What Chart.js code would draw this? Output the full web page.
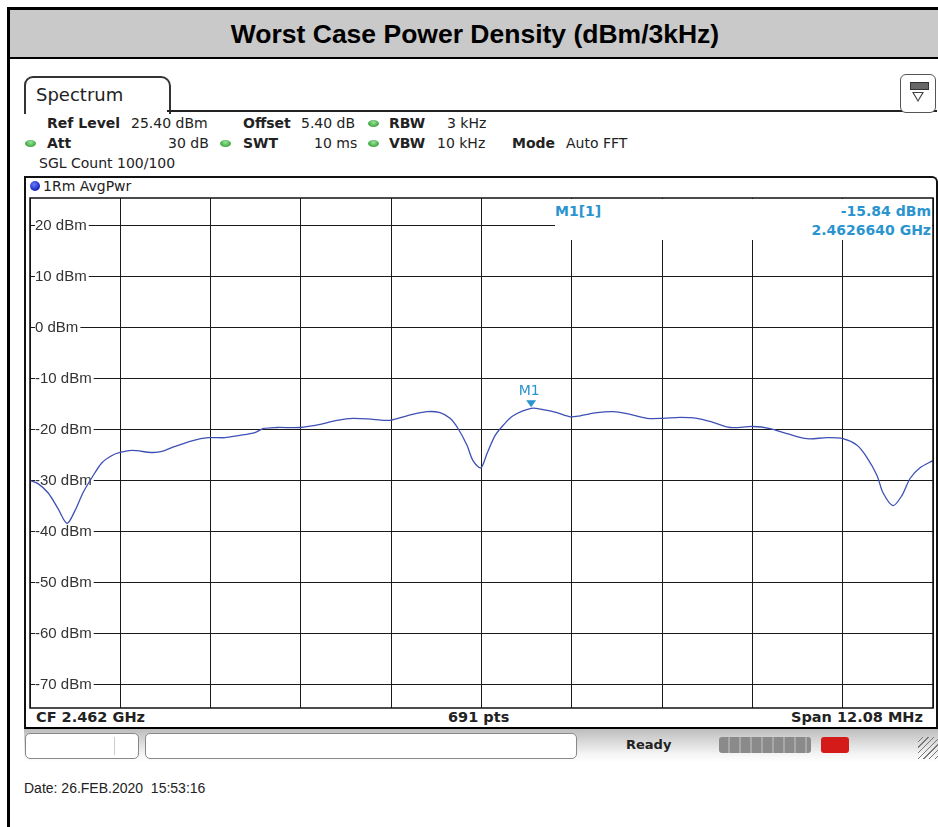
<!DOCTYPE html>
<html>
<head>
<meta charset="utf-8">
<script src="https://cdn.jsdelivr.net/npm/chart.js@4.4.1/dist/chart.umd.min.js"></script>
<style>
body{margin:0;background:#fff;width:938px;height:827px;overflow:hidden;position:relative;font-family:"DejaVu Sans",sans-serif;color:#222}
.a{position:absolute;white-space:nowrap;font-size:14px;line-height:16px}
.b{font-weight:bold}
#frame{position:absolute;left:7px;top:7px;width:940px;height:830px;border-left:3px solid #000;border-top:3px solid #000}
#title{position:absolute;left:10px;top:10px;width:930px;height:47px;background:#c9c9c9;border-bottom:2px solid #000;font:bold 26.5px "Liberation Sans",Arial,sans-serif;text-align:center;line-height:49px;color:#000}
#tab{position:absolute;left:24px;top:76px;width:143px;height:36px;border:2px solid #333;border-bottom:none;border-radius:9px 10px 0 0;background:#fff}
#tabline{position:absolute;left:167px;top:110px;width:770px;height:2px;background:#222}
#icon{position:absolute;left:900px;top:74px;width:34px;height:37px;border:1.5px solid #555;border-radius:6px;background:#fff}
.dot{position:absolute;width:11px;height:7px;border-radius:50%;background:radial-gradient(ellipse at 50% 35%,#9be39b,#3fa63f 70%)}
#plotframe{position:absolute;left:24px;top:176px;width:910px;height:549px;border:2px solid #111;border-bottom:3px solid #000;border-radius:0 6px 0 0}
#wrap{position:absolute;left:29px;top:197px;width:905px;height:512px}
#mbox{position:absolute;left:555px;top:199px;width:377px;height:41px;background:#fff;color:#2a94cf;font-weight:bold;font-size:14.5px}
#status{position:absolute;left:24px;top:729px;width:914px;height:33px;background:linear-gradient(#bdbdbd,#f4f4f4 75%,#fff)}
.box{position:absolute;top:4px;height:24px;background:#fff;border:1px solid #888;border-radius:5px}
</style>
</head>
<body>
<div id="frame"></div>
<div id="title">Worst Case Power Density (dBm/3kHz)</div>

<div id="tab"></div>
<div id="tabline"></div>
<div class="a" style="left:36px;top:85px;font-size:18px;line-height:20px">Spectrum</div>
<div id="icon">
  <div style="position:absolute;left:9px;top:7px;width:17px;height:6px;background:#666;border:1px solid #333"></div>
  <div style="position:absolute;left:11px;top:17px;width:0;height:0;border-left:6px solid transparent;border-right:6px solid transparent;border-top:10px solid #444"></div>
  <div style="position:absolute;left:13px;top:18px;width:0;height:0;border-left:4px solid transparent;border-right:4px solid transparent;border-top:7px solid #fff"></div>
</div>

<div class="a b" style="left:47px;top:115px">Ref Level</div>
<div class="a" style="left:131px;top:115px">25.40 dBm</div>
<div class="a b" style="left:243px;top:115px">Offset</div>
<div class="a" style="left:301px;top:115px">5.40 dB</div>
<div class="dot" style="left:368px;top:120px"></div>
<div class="a b" style="left:389px;top:115px">RBW</div>
<div class="a" style="left:447px;top:115px">3 kHz</div>

<div class="dot" style="left:25px;top:140px"></div>
<div class="a b" style="left:47px;top:135px">Att</div>
<div class="a" style="left:168px;top:135px">30 dB</div>
<div class="dot" style="left:220px;top:140px"></div>
<div class="a b" style="left:243px;top:135px">SWT</div>
<div class="a" style="left:314px;top:135px">10 ms</div>
<div class="dot" style="left:368px;top:140px"></div>
<div class="a b" style="left:389px;top:135px">VBW</div>
<div class="a" style="left:437px;top:135px">10 kHz</div>
<div class="a b" style="left:512px;top:135px">Mode</div>
<div class="a" style="left:566px;top:135px">Auto FFT</div>
<div class="a" style="left:39px;top:155px">SGL Count 100/100</div>

<div id="plotframe"></div>
<div style="position:absolute;left:30px;top:181px;width:10px;height:10px;border-radius:50%;background:radial-gradient(circle at 40% 35%,#6a7cff,#1424b8 70%)"></div>
<div class="a" style="left:43px;top:178px">1Rm AvgPwr</div>

<div id="wrap"><canvas id="spec"></canvas></div>
<div id="mbox">
  <div class="a" style="left:0;top:4px">M1[1]</div>
  <div class="a" style="right:1px;top:4px">-15.84 dBm</div>
  <div class="a" style="right:1px;top:23px">2.4626640 GHz</div>
</div>

<div class="a b" style="left:36px;top:709px;font-size:14.5px">CF 2.462 GHz</div>
<div class="a b" style="left:448px;top:709px;font-size:14.5px">691 pts</div>
<div class="a b" style="left:791px;top:709px;font-size:14.5px">Span 12.08 MHz</div>

<div id="status">
  <div class="box" style="left:1px;width:112px"><div style="position:absolute;left:88px;top:3px;width:1px;height:18px;background:#ccc"></div></div>
  <div class="box" style="left:121px;width:430px"></div>
  <div class="a b" style="left:602px;top:8px;font-size:13px">Ready</div>
  <div style="position:absolute;left:695px;top:8px;width:92px;height:16px;border-radius:3px;background:repeating-linear-gradient(90deg,#8a8a8a 0 9px,#a8a8a8 9px 11px)"></div>
  <div style="position:absolute;left:797px;top:8px;width:28px;height:16px;border-radius:3px;background:#d51a1a"></div>
  <div style="position:absolute;left:894px;top:8px;width:20px;height:22px;background:repeating-linear-gradient(135deg,transparent 0 3px,#777 3px 4px)"></div>
</div>

<div class="a" style="left:24px;top:780px;font-family:'Liberation Sans',Arial,sans-serif">Date: 26.FEB.2020&nbsp;&nbsp;15:53:16</div>

<script>
// trace 1 (AvgPwr)
const freqMHz = [2455.960, 2456.067, 2456.201, 2456.335, 2456.455, 2456.562, 2456.669, 2456.789, 2456.923,
  2457.057, 2457.164, 2457.325, 2457.592, 2457.726, 2457.900, 2458.127, 2458.341, 2458.569, 2458.743, 2458.970,
  2459.077, 2459.264, 2459.572, 2459.840, 2460.067, 2460.281, 2460.549, 2460.776, 2461.003, 2461.271, 2461.445,
  2461.579, 2461.686, 2461.806, 2461.886, 2461.990, 2462.074, 2462.181, 2462.288, 2462.422, 2462.664, 2462.823,
  2463.010, 2463.184, 2463.318, 2463.545, 2463.759, 2463.947, 2464.214, 2464.428, 2464.656, 2464.883, 2465.097,
  2465.325, 2465.632, 2465.860, 2466.087, 2466.355, 2466.622, 2466.836, 2467.024, 2467.157, 2467.291, 2467.371,
  2467.505, 2467.626, 2467.733, 2467.866, 2468.040];
const levelDbm = [-30.0, -30.6, -32.4, -35.5, -38.4, -35.9, -32.4, -29.4, -26.5,
  -25.1, -24.5, -24.1, -24.5, -24.3, -23.3, -22.2, -21.6, -21.6, -21.2, -20.6,
  -19.8, -19.6, -19.6, -19.0, -18.2, -17.8, -18.0, -18.2, -17.3, -16.5, -16.7,
  -17.8, -19.8, -23.1, -26.1, -27.5, -24.7, -21.2, -19.2, -17.3, -15.84, -16.1,
  -16.7, -17.5, -17.3, -16.7, -16.5, -16.9, -17.8, -17.8, -17.6, -17.8, -18.6,
  -19.6, -19.4, -19.8, -20.8, -21.8, -21.6, -21.8, -23.1, -25.5, -29.0, -32.4,
  -34.9, -32.9, -29.6, -27.5, -26.1];

// grid: 10 divisions over the span, ref level 25.40 dBm, 10 dB/div
const xGridMHz = [2455.960, 2457.168, 2458.376, 2459.584, 2460.792, 2462.000, 2463.208, 2464.416, 2465.624, 2466.832, 2468.040];
const yTicksDbm = [20, 10, 0, -10, -20, -30, -40, -50, -60, -70];
const refLevel = 25.40;
const bottomLevel = -74.60;

const markerName = 'M1';
const markerFreq = 2462.664;
const markerLevel = -15.84;

const markerPlugin = {
  id: 'marker',
  afterDatasetsDraw(chart) {
    const ctx = chart.ctx;
    const px = chart.scales.x.getPixelForValue(markerFreq);
    const py = chart.scales.y.getPixelForValue(markerLevel);
    ctx.save();
    ctx.fillStyle = '#2a94cf';
    ctx.beginPath();
    ctx.moveTo(px - 5, py - 8);
    ctx.lineTo(px + 5, py - 8);
    ctx.lineTo(px, py - 1);
    ctx.closePath();
    ctx.fill();
    ctx.font = '14px "DejaVu Sans"';
    ctx.textAlign = 'center';
    ctx.textBaseline = 'middle';
    ctx.fillText(markerName, px - 2, py - 17);
    ctx.restore();
  },
  afterDraw(chart) {
    const a = chart.chartArea;
    const ctx = chart.ctx;
    ctx.save();
    ctx.strokeStyle = '#111';
    ctx.lineWidth = 1.5;
    ctx.strokeRect(a.left, a.top, a.right - a.left, a.bottom - a.top);
    ctx.restore();
  }
};

// keep the axes from taking room: the plot fills the whole canvas
function noRoom(s) {
  if (s.isHorizontal()) s.height = 0; else s.width = 0;
  s.paddingTop = 0; s.paddingBottom = 0; s.paddingLeft = 0; s.paddingRight = 0;
}

new Chart(document.getElementById('spec'), {
  type: 'line',
  data: {
    datasets: [{
      label: '1Rm AvgPwr',
      data: freqMHz.map((f, i) => ({ x: f, y: levelDbm[i] })),
      borderColor: '#3f50b5',
      borderWidth: 1.3,
      pointRadius: 0,
      tension: 0.3,
      fill: false
    }]
  },
  options: {
    responsive: true,
    maintainAspectRatio: false,
    animation: false,
    layout: { padding: { left: 1, right: 1, top: 1, bottom: 1 } },
    plugins: { legend: { display: false }, tooltip: { enabled: false } },
    scales: {
      x: {
        type: 'linear',
        min: xGridMHz[0],
        max: xGridMHz[xGridMHz.length - 1],
        afterBuildTicks: s => { s.ticks = xGridMHz.map(v => ({ value: v })); },
        afterFit: noRoom,
        ticks: { display: false },
        grid: { color: '#1a1a1a', lineWidth: 1, drawTicks: false },
        border: { display: false }
      },
      y: {
        min: bottomLevel,
        max: refLevel,
        afterBuildTicks: s => { s.ticks = yTicksDbm.map(v => ({ value: v })); },
        afterFit: noRoom,
        ticks: {
          mirror: true,
          padding: 5,
          color: '#333',
          font: { family: '"Liberation Sans", Arial', size: 15 },
          callback: v => v + ' dBm',
          showLabelBackdrop: true,
          backdropColor: '#fff',
          backdropPadding: { left: 0, right: 2, top: 0, bottom: 0 }
        },
        grid: { color: '#1a1a1a', lineWidth: 1, drawTicks: false },
        border: { display: false }
      }
    }
  },
  plugins: [markerPlugin]
});
</script>
</body>
</html>
